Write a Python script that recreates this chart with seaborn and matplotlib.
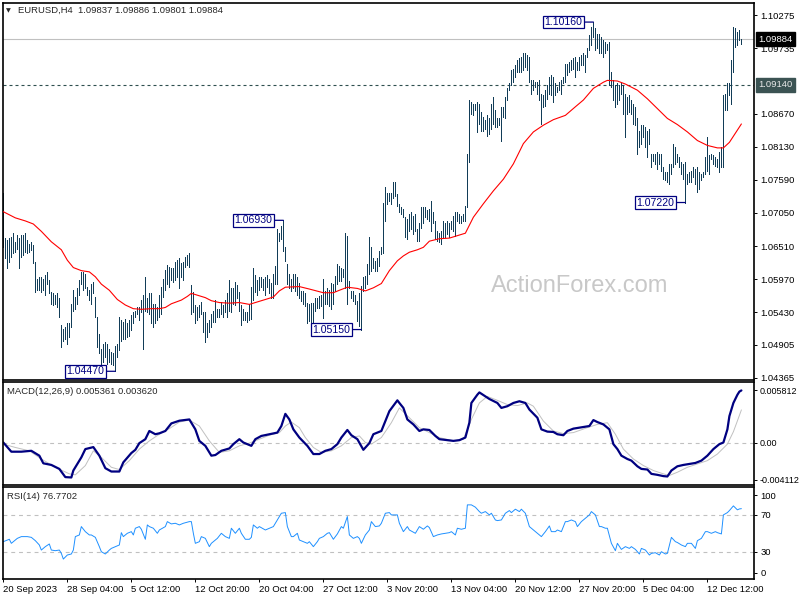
import numpy as np
import pandas as pd
import matplotlib
matplotlib.use("Agg")
import matplotlib.pyplot as plt
import matplotlib.transforms as mtransforms
import seaborn as sns

# prices are kept in 1e-4 units (10737 -> 1.0737), one entry per H4 bar
bar_highs = [
    10737, 10664, 10661, 10664, 10666, 10672, 10658, 10669, 10664, 10669,
    10669, 10673, 10661, 10655, 10658, 10653, 10625, 10598, 10601, 10601,
    10598, 10604, 10609, 10596, 10576, 10574, 10571, 10574, 10566, 10522,
    10516, 10519, 10525, 10525, 10557, 10579, 10568, 10582, 10596, 10609,
    10609, 10606, 10585, 10579, 10590, 10593, 10568, 10536, 10508, 10484,
    10492, 10495, 10492, 10484, 10478, 10476, 10489, 10492, 10536, 10530,
    10527, 10533, 10525, 10530, 10538, 10544, 10546, 10552, 10552, 10563,
    10571, 10601, 10566, 10574, 10574, 10557, 10557, 10552, 10571, 10585,
    10598, 10612, 10620, 10617, 10615, 10615, 10625, 10628, 10631, 10623,
    10625, 10634, 10636, 10640, 10587, 10576, 10555, 10552, 10555, 10560,
    10544, 10544, 10525, 10530, 10541, 10546, 10563, 10549, 10549, 10560,
    10555, 10563, 10574, 10596, 10582, 10582, 10593, 10587, 10576, 10555,
    10549, 10544, 10544, 10557, 10585, 10615, 10604, 10596, 10601, 10601,
    10598, 10601, 10604,
    10597, 10591, 10605, 10619, 10679, 10673, 10684, 10693, 10649, 10621,
    10605, 10597, 10605, 10605, 10600, 10591, 10578, 10578, 10575, 10559,
    10556, 10559, 10559, 10567, 10567, 10570, 10572, 10597, 10578, 10583,
    10580, 10591, 10589, 10602, 10621, 10619, 10616, 10613, 10673, 10668,
    10594, 10578, 10578, 10572, 10561, 10575, 10586, 10600, 10602, 10621,
    10665, 10649, 10632, 10627, 10632, 10643, 10649, 10722, 10747, 10738,
    10738, 10738, 10755, 10755, 10736, 10719, 10714, 10711, 10698, 10695,
    10703, 10706, 10700, 10703, 10679, 10689, 10714, 10714, 10714, 10709,
    10711, 10725, 10706, 10692, 10676, 10673, 10676, 10692, 10689, 10692,
    10689, 10692, 10700, 10706, 10706, 10703, 10700, 10703, 10717,
    10801, 10889, 10886, 10883, 10883, 10886, 10883, 10869, 10861, 10856,
    10864, 10859, 10883, 10894, 10872, 10859, 10859, 10878, 10878, 10894,
    10908, 10916, 10938, 10940, 10946, 10954, 10957, 10959, 10965, 10965,
    10962, 10959, 10921, 10921, 10918, 10918, 10921, 10899, 10897, 10905,
    10913, 10927, 10929, 10927, 10916, 10910, 10918, 10921, 10927, 10948,
    10948, 10951, 10954, 10957, 10959, 10951, 10959, 10962, 10965, 10962,
    10973, 10995, 11008, 11016, 11006, 10997, 10997, 10992, 10987, 10984,
    10981, 10984, 10935, 10921, 10913, 10916, 10913, 10916, 10913, 10899,
    10894, 10897, 10889, 10883, 10878, 10859, 10839, 10848, 10848, 10845,
    10839, 10842, 10801, 10801, 10801, 10804, 10801, 10801, 10780, 10771,
    10771, 10785, 10785, 10818, 10812, 10801, 10796, 10788, 10785, 10788,
    10769, 10771, 10774, 10780, 10777, 10780, 10771, 10769, 10771, 10796,
    10829, 10799, 10801, 10799, 10796, 10793, 10804, 10812, 10897, 10899,
    10916, 10916, 10954, 11008, 11006, 11000, 11003, 10989,
]
bar_lows = [
    10650, 10631, 10616, 10625, 10634, 10639, 10642, 10647, 10615, 10634,
    10636, 10642, 10639, 10642, 10645, 10623, 10576, 10579, 10579, 10576,
    10579, 10571, 10590, 10574, 10557, 10555, 10557, 10552, 10536, 10487,
    10497, 10500, 10492, 10503, 10519, 10546, 10549, 10557, 10571, 10590,
    10579, 10582, 10571, 10563, 10557, 10574, 10536, 10487, 10476, 10459,
    10462, 10470, 10459, 10462, 10459, 10457, 10447, 10470, 10481, 10497,
    10500, 10500, 10503, 10505, 10514, 10525, 10536, 10541, 10530, 10544,
    10484, 10546, 10544, 10541, 10525, 10519, 10525, 10530, 10536, 10541,
    10568, 10579, 10590, 10585, 10596, 10593, 10596, 10601, 10582, 10601,
    10596, 10617, 10620, 10617, 10541, 10544, 10525, 10530, 10536, 10541,
    10511, 10495, 10503, 10511, 10519, 10527, 10527, 10536, 10536, 10541,
    10536, 10544, 10536, 10546, 10544, 10557, 10555, 10566, 10546, 10522,
    10530, 10530, 10527, 10530, 10533, 10563, 10576, 10571, 10579, 10585,
    10579, 10571, 10585,
    10575, 10567, 10567, 10589, 10589, 10660, 10662, 10643, 10627, 10589,
    10583, 10578, 10583, 10578, 10572, 10567, 10561, 10556, 10553, 10526,
    10529, 10523, 10526, 10545, 10550, 10550, 10553, 10534, 10556, 10556,
    10553, 10548, 10556, 10578, 10589, 10594, 10594, 10600, 10583, 10556,
    10583, 10567, 10561, 10556, 10529, 10521, 10515, 10578, 10583, 10589,
    10605, 10610, 10616, 10610, 10610, 10619, 10638, 10640, 10692, 10719,
    10725, 10719, 10730, 10733, 10717, 10706, 10703, 10698, 10665, 10662,
    10676, 10679, 10670, 10676, 10660, 10660, 10681, 10689, 10698, 10695,
    10692, 10676, 10689, 10662, 10660, 10657, 10654, 10665, 10665, 10670,
    10665, 10679, 10676, 10668, 10692, 10689, 10689, 10692, 10692,
    10714, 10788, 10867, 10864, 10872, 10837, 10850, 10839, 10839, 10842,
    10831, 10834, 10842, 10850, 10845, 10845, 10848, 10823, 10861, 10859,
    10889, 10905, 10913, 10918, 10927, 10935, 10935, 10935, 10938, 10943,
    10938, 10918, 10899, 10905, 10910, 10899, 10889, 10850, 10878, 10880,
    10891, 10899, 10897, 10886, 10897, 10902, 10905, 10899, 10916, 10918,
    10929, 10935, 10938, 10940, 10927, 10938, 10938, 10946, 10946, 10935,
    10959, 10970, 10978, 10992, 10970, 10973, 10965, 10965, 10959, 10965,
    10970, 10913, 10910, 10889, 10878, 10883, 10889, 10899, 10867, 10829,
    10867, 10869, 10867, 10850, 10848, 10801, 10812, 10818, 10829, 10812,
    10796, 10818, 10780, 10790, 10785, 10777, 10785, 10774, 10760, 10758,
    10755, 10752, 10769, 10780, 10785, 10788, 10780, 10769, 10760, 10722,
    10752, 10755, 10755, 10763, 10752, 10739, 10744, 10758, 10763, 10769,
    10774, 10769, 10793, 10785, 10782, 10780, 10771, 10780, 10780, 10872,
    10872, 10897, 10883, 10935, 10976, 10978, 10987, 10980,
]

# moving average (bar number, 1e-4 units)
ma_bars = [1, 7, 12, 16, 20, 25, 30, 33, 36, 40, 44, 47, 50, 54, 58, 62, 66, 70, 75, 79,
           82, 85, 90, 93, 95, 99, 102, 105, 109, 114, 119, 124, 129, 136, 139, 142, 149,
           154, 161, 166, 169, 173, 178, 182, 186, 190, 194, 198, 201, 204, 208, 211, 214,
           219, 224, 232, 236, 241, 246, 251, 256, 261, 266, 271, 276, 282, 287, 291, 296,
           301, 303, 308, 312, 318, 323, 328, 333, 338, 343, 348, 353, 358, 361, 364, 370]
ma_pips = [10707, 10697, 10692, 10687, 10675, 10658, 10645, 10628, 10616, 10611, 10609,
           10601, 10589, 10579, 10564, 10555, 10549, 10548, 10549, 10549, 10551, 10557,
           10563, 10569, 10574, 10570, 10567, 10562, 10559, 10558, 10559, 10556, 10561,
           10568, 10578, 10584, 10585, 10581, 10575, 10575, 10579, 10584, 10582, 10578,
           10583, 10590, 10611, 10627, 10635, 10641, 10645, 10649, 10659, 10663, 10664,
           10672, 10698, 10720, 10741, 10760, 10785, 10818, 10837, 10848, 10857, 10864,
           10878, 10889, 10908, 10918, 10921, 10920, 10915, 10905, 10891, 10875, 10859,
           10849, 10837, 10823, 10815, 10811, 10811, 10820, 10850]

# MACD main and signal, 1e-4 units
macd_bars = [1, 5, 10, 15, 19, 21, 25, 29, 32, 35, 36, 40, 42, 46, 49, 52, 55, 59, 61, 65,
             67, 69, 72, 74, 77, 79, 82, 85, 89, 94, 97, 99, 102, 105, 107, 110, 114, 116,
             119, 121, 125, 127, 130, 134, 138, 140, 142, 144, 146, 149, 153, 156, 159, 162,
             165, 168, 170, 173, 175, 178, 181, 184, 186, 190, 191, 194, 198, 199, 201, 203,
             206, 209, 211, 214, 217, 219, 223, 226, 229, 232, 234, 235, 238, 239, 242, 244,
             248, 250, 253, 256, 259, 262, 264, 268, 270, 273, 276, 278, 281, 283, 286, 289,
             294, 296, 298, 301, 304, 306, 308, 310, 313, 315, 318, 320, 323, 325, 328, 331,
             333, 335, 338, 341, 344, 347, 350, 353, 356, 359, 361, 363, 364, 366, 368, 369, 370]
macd_main = [0.0, -10.2, -10.2, -9.2, -14.6, -23.1, -24.9, -29.3, -38.4, -38.8,
             -31.1, -16.5, -7.3, -5.1, -14.6, -28.5, -32.2, -32.2, -22.0, -11.7,
             -8.1, -0.7, 3.7, 12.8, 9.2, 10.2, 12.8, 21.2, 24.2, 25.6,
             14.6, 1.8, -3.7, -14.6, -13.9, -9.2, -6.6, -1.8, 3.7, 0.0,
             -3.7, 3.7, 7.3, 9.2, 11.0, 18.3, 31.8, 25.6, 14.6, 5.5,
             -3.7, -12.8, -12.8, -9.2, -7.3, -1.8, 5.5, 13.9, 8.1, 3.7,
             -8.1, -0.7, 9.2, 12.8, 18.3, 34.8, 46.8, 43.9, 38.4, 25.6,
             20.1, 12.8, 14.6, 13.9, 7.3, 3.7, 2.6, 1.8, 2.6, 5.5,
             22.0, 43.9, 53.1, 55.6, 51.2, 48.3, 43.9, 38.4, 40.3, 43.9,
             45.8, 43.9, 36.6, 27.5, 14.6, 12.1, 11.7, 9.2, 8.1, 12.8,
             15.4, 16.5, 18.3, 24.9, 22.7, 20.1, 14.6, -1.8, -7.3, -14.6,
             -18.3, -20.1, -26.4, -29.3, -30.0, -34.8, -35.9, -37.3, -37.7, -31.1,
             -26.4, -24.9, -23.8, -22.7, -20.1, -14.6, -7.3, -1.8, 0.0, 14.6,
             29.3, 43.9, 53.0, 56.5, 57.8]
signal_bars = [1, 7, 14, 20, 27, 34, 37, 42, 46, 50, 55, 59, 64, 69, 74, 79, 84, 89, 94, 99,
               104, 109, 114, 119, 124, 129, 134, 139, 142, 145, 149, 152, 156, 160, 165, 170,
               175, 179, 182, 185, 190, 195, 199, 204, 209, 214, 219, 226, 231, 235, 239, 243,
               248, 253, 258, 263, 266, 271, 276, 281, 286, 293, 298, 303, 307, 311, 316, 321,
               326, 331, 334, 338, 343, 348, 353, 358, 363, 366, 368, 370]
macd_signal = [-1.8, -5.5, -9.2, -18.3, -27.5, -34.8, -35.9, -25.6, -9.2, -16.5,
               -27.5, -30.0, -20.1, -7.3, 1.8, 9.2, 15.4, 22.7, 24.9, 18.3,
               1.8, -11.0, -9.2, -3.7, -0.7, 3.7, 8.1, 11.0, 18.3, 22.7,
               16.5, 5.5, -5.5, -11.0, -9.2, -3.7, 5.5, 7.3, 0.0, -1.8,
               5.5, 22.0, 38.4, 27.5, 16.5, 11.0, 5.5, 1.8, 3.7, 25.6,
               43.9, 51.2, 46.8, 42.1, 41.0, 43.9, 40.3, 23.8, 12.8, 9.9,
               11.0, 16.5, 20.1, 22.0, 9.2, -7.3, -18.3, -25.6, -31.1, -34.8,
               -36.6, -33.0, -27.5, -23.8, -20.1, -12.8, -1.8, 12.0, 24.0, 36.2]

# RSI(14)
rsi_bars = [1, 4, 5, 8, 10, 13, 15, 17, 19, 20, 22, 24, 25, 27, 29, 30, 31, 33, 35, 36,
            37, 39, 40, 42, 44, 45, 47, 49, 50, 52, 54, 55, 57, 59, 60, 61, 63, 65, 66, 67,
            69, 70, 72, 73, 74, 76, 78, 79, 82, 83, 85, 87, 89, 91, 94, 95, 96, 97, 99, 100,
            102, 104, 105, 108, 110, 112, 114, 115, 117, 119, 120, 122, 124, 125, 126, 128,
            129, 132, 134, 136, 138, 140, 142, 143, 145, 146, 148, 149, 151, 153, 154, 156,
            158, 159, 161, 163, 164, 166, 168, 170, 171, 173, 174, 176, 178, 179, 180, 182,
            184, 185, 187, 189, 190, 192, 194, 195, 198, 199, 201, 203, 204, 207, 209, 211,
            213, 214, 216, 218, 220, 222, 224, 225, 227, 228, 230, 232, 233, 235, 237, 239,
            240, 242, 244, 245, 247, 248, 250, 252, 254, 255, 257, 259, 260, 262, 264, 265,
            267, 268, 270, 272, 274, 275, 277, 278, 280, 282, 283, 285, 287, 288, 290, 292,
            294, 295, 297, 299, 300, 302, 303, 305, 307, 308, 310, 312, 314, 315, 317, 319,
            320, 322, 324, 325, 327, 329, 330, 332, 333, 335, 337, 338, 340, 342, 343, 345,
            347, 348, 350, 352, 353, 355, 357, 358, 360, 361, 363, 364, 366, 368, 369, 370]
rsi_values = [40.9, 43.5, 39.1, 44.5, 46.4, 46.4, 45.6, 42.0, 37.3, 31.8,
              35.5, 38.4, 31.8, 31.1, 31.8, 28.2, 22.0, 26.4, 27.5, 31.8,
              46.4, 48.2, 57.3, 51.8, 48.2, 48.2, 45.6, 35.5, 30.0, 27.5,
              31.8, 33.6, 35.5, 37.3, 50.7, 46.4, 50.0, 51.8, 48.2, 55.5,
              57.3, 54.4, 43.5, 59.1, 57.3, 55.5, 50.0, 53.6, 57.3, 62.7,
              60.2, 60.9, 59.1, 60.9, 62.7, 62.7, 50.0, 39.1, 40.9, 46.4,
              44.5, 35.5, 39.1, 44.5, 50.0, 46.4, 44.5, 55.5, 50.0, 55.5,
              50.0, 43.5, 43.5, 45.6, 59.1, 55.5, 57.3, 53.6, 55.5, 57.3,
              64.5, 71.8, 72.5, 57.3, 46.4, 46.4, 50.0, 42.7, 40.9, 39.1,
              40.9, 35.5, 40.9, 44.5, 46.4, 50.0, 50.7, 43.5, 49.3, 57.3,
              55.5, 68.2, 48.2, 44.5, 46.4, 44.5, 39.1, 48.2, 53.6, 62.7,
              57.3, 58.0, 60.9, 71.8, 72.5, 70.0, 70.0,
              60.9, 51.8, 57.3, 53.6, 50.0, 57.3, 54.4, 58.0, 56.2, 46.4,
              48.2, 49.3, 50.0, 50.7, 51.8, 48.2, 55.5, 54.4, 55.5, 80.9,
              80.9, 78.4, 73.6, 71.8, 73.6, 70.0, 71.8, 64.5, 63.8, 64.5,
              71.8, 74.7, 72.5, 76.2, 73.6, 76.2, 71.8, 57.3, 55.5, 51.8,
              50.0, 46.4, 51.8, 58.0, 51.8, 51.8, 53.6, 51.8, 62.7, 62.7,
              64.5, 62.7, 57.3, 62.7, 66.4, 70.0, 73.6, 70.0, 57.3, 57.3,
              55.5, 55.5, 39.1, 31.1, 39.1, 32.5, 35.5, 33.6, 35.5, 32.5,
              27.5, 33.6, 31.8, 26.4, 28.2, 28.9, 26.4, 30.0, 27.5, 28.2,
              45.6, 40.9, 40.0, 37.3, 35.5, 39.1, 39.1, 33.6, 42.0, 44.5,
              51.8, 51.8, 50.0, 51.8, 50.7, 49.3, 70.0, 72.5, 74.7, 79.8,
              75.5, 76.5, 76.77]

price_ticks = [1.10275, 1.09735, 1.08670, 1.08130, 1.07590, 1.07050,
               1.06510, 1.05970, 1.05430, 1.04905, 1.04365]
date_bars = [1, 33, 65, 97, 129, 161, 193, 225, 257, 289, 321, 353]
date_labels = ["20 Sep 2023", "28 Sep 04:00", "5 Oct 12:00", "12 Oct 20:00",
               "20 Oct 04:00", "27 Oct 12:00", "3 Nov 20:00", "13 Nov 04:00",
               "20 Nov 12:00", "27 Nov 20:00", "5 Dec 04:00", "12 Dec 12:00"]
swing_prices = [1.1016, 1.0693, 1.0447, 1.0515, 1.0722]
swing_kinds = ["high", "high", "low", "low", "low"]
last_price = 1.09884
level_price = 1.0914

BAR = "#123d58"
NAVY = "#000080"
SILVER = "#c0c0c0"

sns.set_style("white")
plt.rcParams['font.family'] = ['Liberation Sans', 'DejaVu Sans']

bars = pd.DataFrame({"bar": np.arange(1, len(bar_highs) + 1),
                     "high": np.array(bar_highs) / 1e4,
                     "low": np.array(bar_lows) / 1e4})

W, H = 800, 600
fig = plt.figure(figsize=(8, 6), dpi=100)
fig.patch.set_facecolor("white")


def panel(top, bottom):
    return fig.add_axes([2.5 / W, 1 - bottom / H, (754 - 2.5) / W, (bottom - top) / H])


ax = panel(2.5, 380)
ax_macd = panel(381.7, 485.3)
ax_rsi = panel(487.3, 579.3)

xlim = (0.585, 376.3)
for a in (ax, ax_macd, ax_rsi):
    a.set_xlim(*xlim)
    for s in a.spines.values():
        s.set_color("black")
        s.set_linewidth(1.2)
    a.tick_params(axis="y", left=False, labelleft=False, right=True, labelright=True,
                  direction="out", length=2.5, width=0.7, pad=2, labelsize=6.8,
                  colors="black")
    a.tick_params(axis="x", bottom=False, labelbottom=False)

# ---- price panel ----
ax.set_ylim(1.04328, 1.10479)
ax.axhline(last_price, color=SILVER, lw=0.8, zorder=1)
ax.axhline(level_price, color="#2f4f4f", lw=0.8, ls=(0, (2.7, 2.7)), zorder=1)
ax.vlines(bars["bar"], bars["low"], bars["high"], color=BAR, lw=0.55,
          antialiased=False, zorder=2)
sns.lineplot(x=ma_bars, y=np.array(ma_pips) / 1e4, ax=ax, color="red", linewidth=0.8,
             estimator=None, sort=False, zorder=3)
ax.set_yticks(price_ticks)
ax.set_yticklabels([f"{p:.5f}" for p in price_ticks])

trans = mtransforms.blended_transform_factory(ax.transAxes, ax.transData)
ax.annotate(f"{last_price:.5f}", xy=(1, last_price), xycoords=trans, xytext=(4, 0),
            textcoords="offset pixels", ha="left", va="center", color="white",
            fontsize=6.8, annotation_clip=False, zorder=10,
            bbox=dict(boxstyle="square,pad=0.25", fc="black", ec="black"))
ax.annotate(f"{level_price:.5f}", xy=(1, level_price), xycoords=trans, xytext=(4, 0),
            textcoords="offset pixels", ha="left", va="center", color="#e8e8e8",
            fontsize=6.8, annotation_clip=False, zorder=10,
            bbox=dict(boxstyle="square,pad=0.25", fc="#3b5353", ec="#3b5353"))

for value, kind in zip(swing_prices, swing_kinds):
    series = bars["high"] if kind == "high" else bars["low"]
    idx = (series - value).abs().idxmin()
    ax.annotate(f"{value:.5f}", xy=(bars.loc[idx, "bar"], value),
                xytext=(-11, 0), textcoords="offset pixels", ha="right", va="center",
                fontsize=7.6, color=NAVY, zorder=6,
                bbox=dict(boxstyle="square,pad=0.12", fc="white", ec=NAVY, lw=0.9),
                arrowprops=dict(arrowstyle="-", color=NAVY, lw=0.9, shrinkA=0, shrinkB=0))

# ---- MACD panel ----
ax_macd.set_ylim(-0.00475, 0.00675)
ax_macd.axhline(0, color=SILVER, lw=0.8, ls=(0, (3.5, 3.5)))
sns.lineplot(x=signal_bars, y=np.array(macd_signal) / 1e4, ax=ax_macd, color=SILVER,
             linewidth=0.7, estimator=None, sort=False)
sns.lineplot(x=macd_bars, y=np.array(macd_main) / 1e4, ax=ax_macd, color=NAVY,
             linewidth=1.6, estimator=None, sort=False)
ax_macd.set_yticks([0.005812, 0.0, -0.004112])
ax_macd.set_yticklabels(["0.005812", "0.00", "-0.004112"])
ax_macd.tick_params(axis="y", labelsize=6.5, pad=1.5)

# ---- RSI panel ----
ax_rsi.set_ylim(0, 100)
for lvl in (70, 30):
    ax_rsi.axhline(lvl, color=SILVER, lw=0.8, ls=(0, (3.5, 3.5)))
sns.lineplot(x=rsi_bars, y=rsi_values, ax=ax_rsi, color="#1e90ff", linewidth=0.7,
             estimator=None, sort=False)
ax_rsi.set_yticks([91.5, 70, 30, 7])
ax_rsi.set_yticklabels(["100", "70", "30", "0"])
ax_rsi.set_xticks(date_bars)
ax_rsi.set_xticklabels(date_labels, ha="left")
ax_rsi.tick_params(axis="x", bottom=True, labelbottom=True, direction="out",
                   length=2.5, width=0.7, pad=1.5, labelsize=6.8, colors="black")
for a in (ax, ax_macd, ax_rsi):
    a.set_xlabel("")
    a.set_ylabel("")

# ---- texts ----
fig.text(6 / W, 1 - 10.5 / H, "\u25bc", fontsize=4.5, family="DejaVu Sans",
         va="center", ha="left")
fig.text(18 / W, 1 - 10 / H, "EURUSD,H4  1.09837 1.09886 1.09801 1.09884",
         fontsize=6.8, va="center", ha="left")
fig.text(7 / W, 1 - 391.5 / H, "MACD(12,26,9) 0.005361 0.003620",
         fontsize=6.8, va="center", ha="left")
fig.text(7 / W, 1 - 496.5 / H, "RSI(14) 76.7702", fontsize=6.8, va="center", ha="left")
fig.text(580 / W, 1 - 286 / H, "ActionForex.com", fontsize=17, color="#c8c8c8",
         va="center", ha="center")

fig.savefig("out.png", dpi=100)
